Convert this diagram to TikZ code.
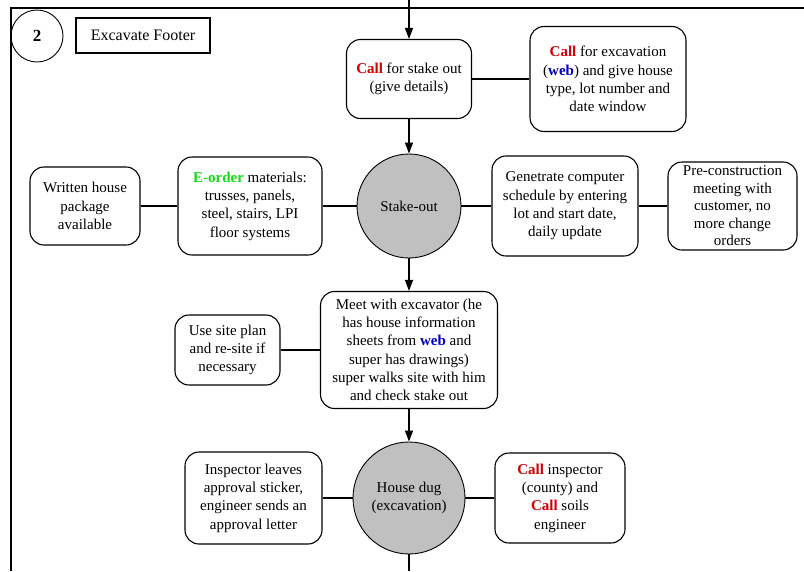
\documentclass[tikz,border=0pt]{standalone}
\usepackage{fontspec}
\setmainfont{Liberation Serif}
\usetikzlibrary{arrows.meta}

\definecolor{callred}{RGB}{210,0,0}
\definecolor{webblue}{RGB}{0,0,190}
\definecolor{ordergreen}{RGB}{20,220,20}
\definecolor{eventgray}{RGB}{192,192,192}

\newcommand{\callword}{\textbf{\textcolor{callred}{Call}}}
\newcommand{\webword}{\textbf{\textcolor{webblue}{web}}}

\begin{document}
\begin{tikzpicture}[x=1pt,y=-1pt,
  task/.style={draw,line width=1.1pt,rounded corners=14pt,align=center,inner sep=1pt,
               font=\fontsize{15}{18.3}\selectfont},
  event/.style={draw,line width=0.9pt,circle,fill=eventgray,align=center,inner sep=0pt,
               font=\fontsize{15}{18.3}\selectfont},
  flow/.style={line width=1.1pt,-{Triangle[width=8pt,length=11pt]}},
  link/.style={line width=1.1pt}]
\useasboundingbox (0,0) rectangle (804,571);

% Cadre
\draw [line width=1.8pt] (11,571) -- (11,8) -- (804,8);

% Titre
\node [draw,circle,line width=0.9pt,minimum size=52pt,font=\fontsize{17}{20}\selectfont\bfseries] (num) at (37,36) {2};
\node [draw,line width=1.1pt,minimum width=134pt,minimum height=35pt,font=\fontsize{16}{19}\selectfont] (title) at (143,35.5) {Excavate Footer};

% Etapes principales
\coordinate (entry) at (409,0);
\node [task,minimum width=125pt,minimum height=79pt] (stakecall) at (409,79)
      {\callword{} for stake out\\(give details)};
\node [event,minimum size=104pt] (stakeout) at (409,206) {Stake-out};
\node [task,minimum width=177pt,minimum height=117pt] (meet) at (409,350)
      {Meet with excavator (he\\has house information\\sheets from \webword{} and\\super has drawings)\\super walks site with him\\and check stake out};
\node [event,minimum size=112pt] (dug) at (409,498) {House dug\\(excavation)};
\coordinate (exit) at (409,571);

% Etapes laterales
\node [task,minimum width=156pt,minimum height=105pt] (exccall) at (608,79)
      {\callword{} for excavation\\(\webword) and give house\\type, lot number and\\date window};
\node [task,minimum width=110pt,minimum height=78pt] (package) at (85,206)
      {Written house\\package\\available};
\node [task,minimum width=144pt,minimum height=98pt] (eorder) at (250,206)
      {\textbf{\textcolor{ordergreen}{E-order}} materials:\\trusses, panels,\\steel, stairs, LPI\\floor systems};
\node [task,minimum width=146pt,minimum height=100pt] (schedule) at (565,206)
      {Genetrate computer\\schedule by entering\\lot and start date,\\daily update};
\node [task,minimum width=129pt,minimum height=88pt,inner sep=0pt,
       font=\fontsize{15}{17.5}\selectfont] (precon) at (732.5,206)
      {Pre-construction\\meeting with\\customer, no\\more change\\orders};
\node [task,minimum width=105pt,minimum height=70pt] (siteplan) at (227.5,350)
      {Use site plan\\and re-site if\\necessary};
\node [task,minimum width=137pt,minimum height=92pt] (sticker) at (253.5,498)
      {Inspector leaves\\approval sticker,\\engineer sends an\\approval letter};
\node [task,minimum width=130pt,minimum height=90pt] (inspcall) at (560,498)
      {\callword{} inspector\\(county) and\\\callword{} soils\\engineer};

% Fleches
\draw [flow] (entry) -- (stakecall);
\draw [flow] (stakecall) -- (stakeout);
\draw [flow] (stakeout) -- (meet);
\draw [flow] (meet) -- (dug);
\draw [link] (dug) -- (exit);

% Liaisons
\draw [link] (stakecall) -- (exccall);
\draw [link] (package) -- (eorder) -- (stakeout) -- (schedule) -- (precon);
\draw [link] (siteplan) -- (meet);
\draw [link] (sticker) -- (dug) -- (inspcall);

\end{tikzpicture}
\end{document}
